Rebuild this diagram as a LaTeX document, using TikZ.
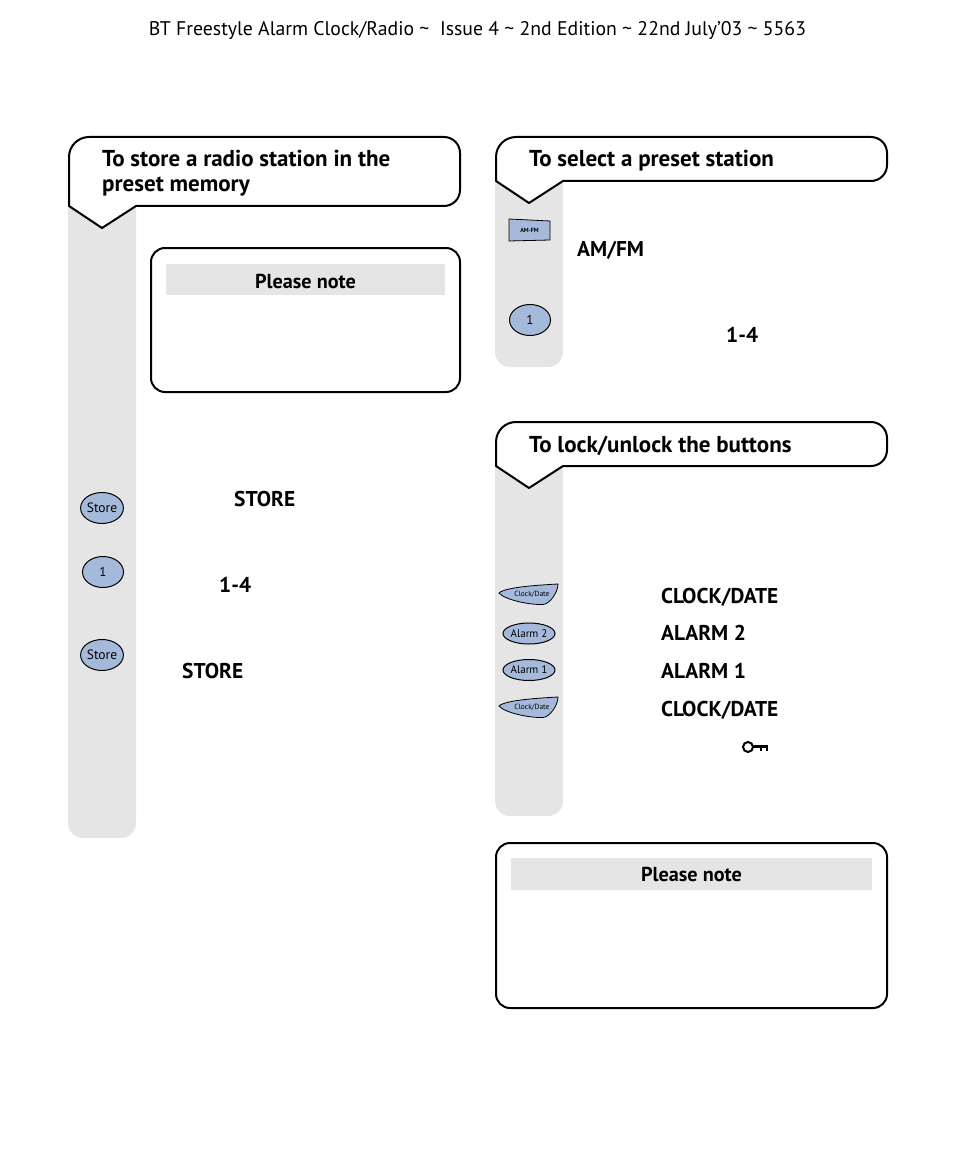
\documentclass[tikz,border=0pt]{standalone}
\usepackage{fontspec}
\usetikzlibrary{shapes.geometric}
\setmainfont{PT Sans}
\definecolor{bargray}{HTML}{E5E5E5}
\definecolor{btnblue}{HTML}{A5BADB}
\begin{document}
\begin{tikzpicture}
[x=1pt,y=-1pt,
bar/.style={fill=bargray,draw=none,rounded corners=15pt},
bubble/.style={draw=black,fill=white,line width=2pt,line join=round},
band/.style={fill=bargray,draw=none},
btn/.style={draw=black,fill=btnblue,line width=1pt},
bigbtn/.style={btn,ellipse,minimum width=41pt,minimum height=31pt,inner sep=0pt},
longbtn/.style={btn,ellipse,minimum width=52pt,minimum height=21pt,inner sep=0pt,font=\fontsize{11}{12}\selectfont},
head/.style={anchor=base west,inner sep=0pt,font=\fontsize{23}{25}\selectfont\bfseries},
keyword/.style={anchor=base west,inner sep=0pt,font=\fontsize{21.4}{24}\selectfont\bfseries},
notehead/.style={anchor=base,inner sep=0pt,font=\fontsize{20.2}{24}\selectfont\bfseries},
]
\useasboundingbox (0,0) rectangle (954,1174);

% grey bars
\fill[bar] (68,190) -- (68,838) -- (136,838) -- (136,190) -- cycle;
\fill[bar] (495,170) -- (495,367) -- (563,367) -- (563,170) -- cycle;
\fill[bar] (495,455) -- (495,816) -- (563,816) -- (563,455) -- cycle;

% title bubbles
\draw[bubble] (69,206) -- (69,157) arc (180:270:20) -- (444,137) arc (-90:0:16)
  -- (460,190) arc (0:90:16) -- (136,206) -- (102,228) -- cycle;
\draw[bubble] (496,181) -- (496,157) arc (180:270:20) -- (871,137) arc (-90:0:16)
  -- (887,165) arc (0:90:16) -- (563,181) -- (529,203) -- cycle;
\draw[bubble] (496,466) -- (496,442) arc (180:270:20) -- (871,422) arc (-90:0:16)
  -- (887,450) arc (0:90:16) -- (563,466) -- (529,488) -- cycle;

\node (title1a) at (102,167)[head]{To store a radio station in the};
\node (title1b) at (102,192)[head]{preset memory};
\node (title2) at (529,167)[head]{To select a preset station};
\node (title3) at (529,452)[head]{To lock/unlock the buttons};

% page header
\node (pagehead) at (477.5,36)[anchor=base,inner sep=0pt,font=\fontsize{19.75}{24}\selectfont]
  {BT Freestyle Alarm Clock/Radio \textasciitilde\ \ Issue 4 \textasciitilde\ 2nd Edition \textasciitilde\ 22nd July’03 \textasciitilde\ 5563};

% note boxes
\draw[bubble,rounded corners=14pt] (151,248) rectangle (460,392);
\fill[band] (166,264) rectangle (445,295);
\node (note1) at (305.5,288)[notehead]{Please note};
\draw[bubble,rounded corners=14pt] (496,843) rectangle (887,1008);
\fill[band] (511,858) rectangle (872,890);
\node (note2) at (691.5,881)[notehead]{Please note};

% left column buttons
\node (storeA) at (102,508)[bigbtn,font=\fontsize{13.5}{14}\selectfont]{Store};
\node (oneA) at (103,572)[bigbtn,font=\fontsize{13}{13}\selectfont]{1};
\node (storeB) at (102,655)[bigbtn,font=\fontsize{13.5}{14}\selectfont]{Store};

% right column buttons
\draw[btn,line width=.8pt] (509,219) -- (550,221) -- (550,240) -- (509,241) -- cycle;
\node (amfm) at (529.5,230)[inner sep=0pt,font=\fontsize{6}{6}\selectfont\bfseries]{AM-FM};
\node (oneB) at (530,320)[bigbtn,font=\fontsize{13}{13}\selectfont]{1};
\node (alarmB) at (529,633.5)[longbtn]{Alarm 2};
\node (alarmA) at (529,670)[longbtn]{Alarm 1};
\foreach \y/\n in {0/clockA,113/clockB}{
  \draw[btn,line width=.8pt] (499,{593+\y}) .. controls (505,{587+\y}) and (540,{585+\y}) .. (558,{584+\y})
    .. controls (558,{592+\y}) and (550,{604+\y}) .. (543,{604.5+\y})
    .. controls (530,{605+\y}) and (505,{600+\y}) .. cycle;
  \node (\n) at (532,{594+\y})[inner sep=0pt,font=\fontsize{7.5}{8}\selectfont]{Clock/Date};
}

% keywords
\node (kwA) at (234,506)[keyword]{STORE};
\node (kwB) at (219,592)[keyword]{1-4};
\node (kwC) at (182,678)[keyword]{STORE};
\node (kwD) at (577,256)[keyword]{AM/FM};
\node (kwE) at (726,342)[keyword]{1-4};
\node (kwF) at (661,603)[keyword]{CLOCK/DATE};
\node (kwG) at (661,640)[keyword]{ALARM 2};
\node (kwH) at (661,678)[keyword]{ALARM 1};
\node (kwI) at (661,716)[keyword]{CLOCK/DATE};

% key symbol
\draw[line width=2pt] (748,747) circle (5);
\draw[line width=2.4pt] (753,746.5) -- (768,746.5);
\draw[line width=2pt] (761,746.5) -- (761,751);
\draw[line width=2pt] (766.5,746.5) -- (766.5,751);

\end{tikzpicture}
\end{document}
